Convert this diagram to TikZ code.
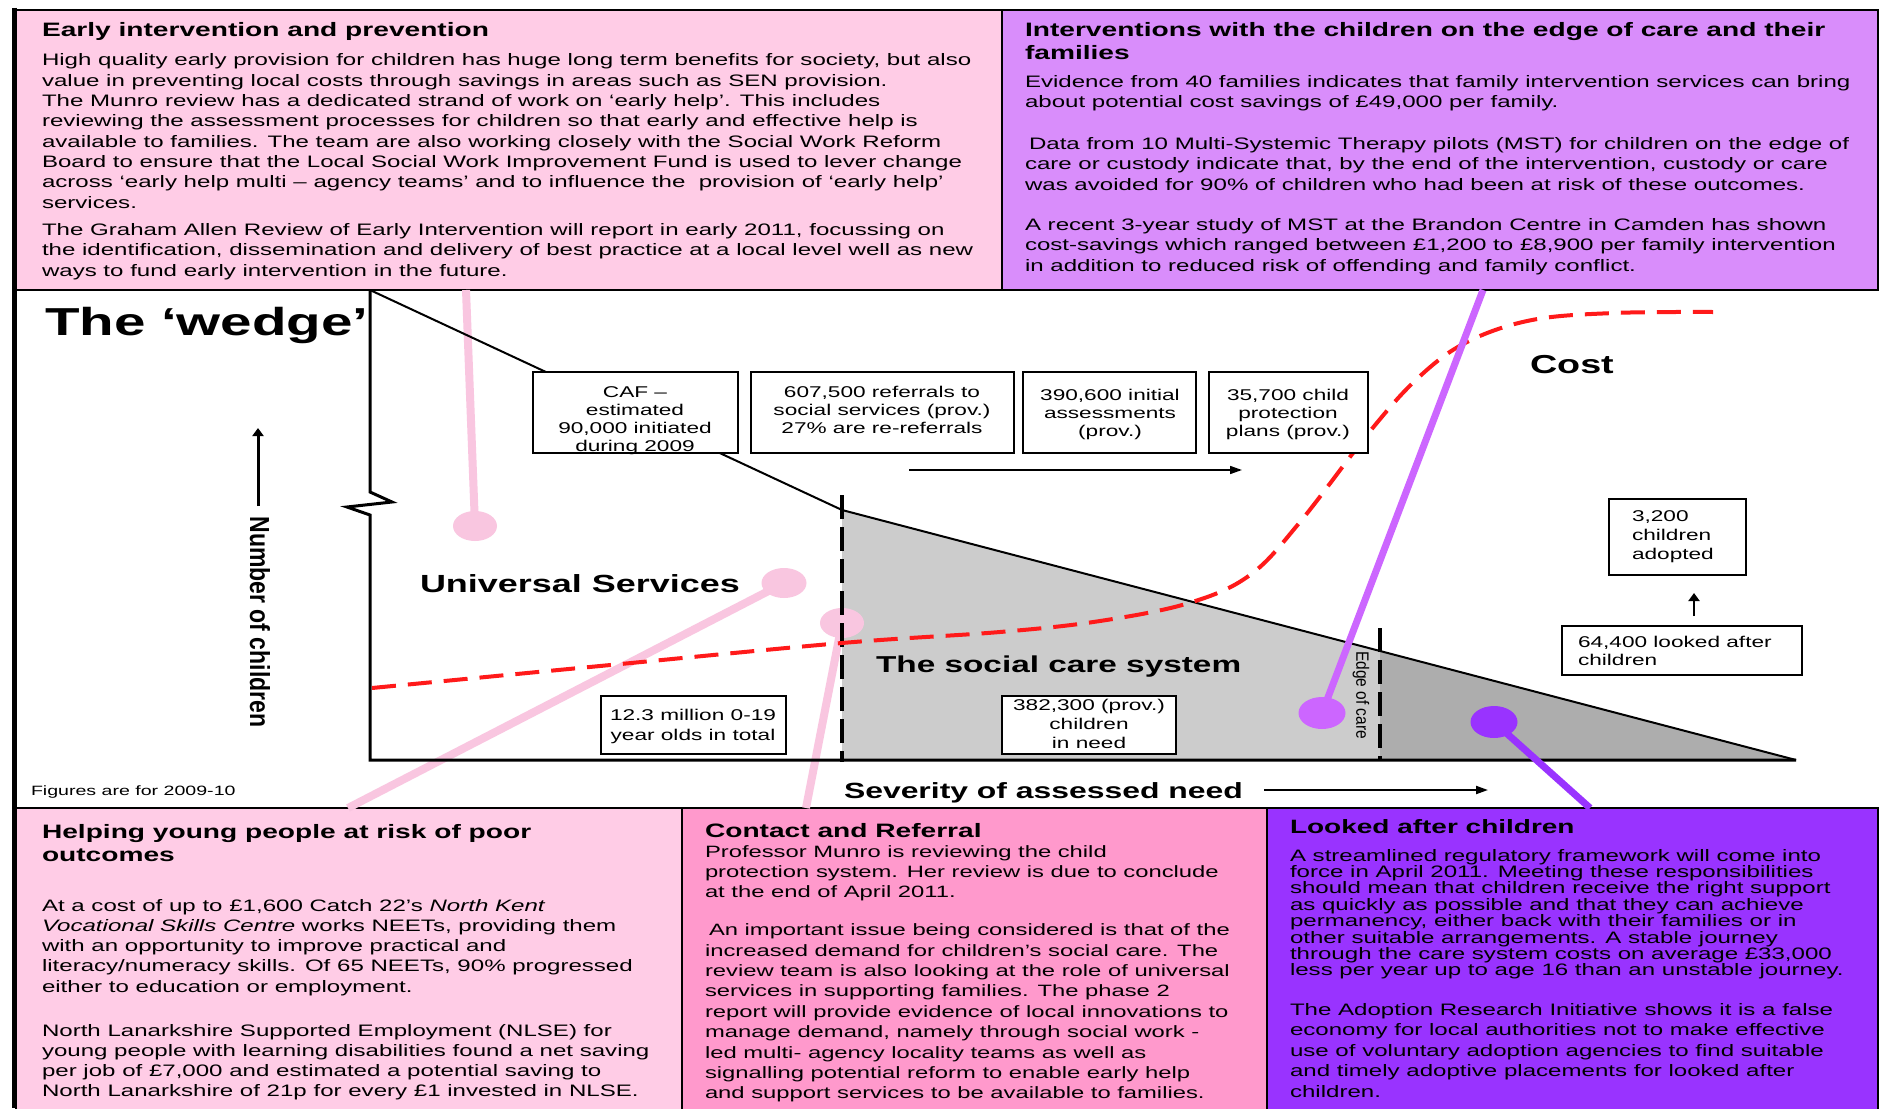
\documentclass[tikz,border=0pt]{standalone}
\usepackage{fontspec}
\setmainfont{Liberation Sans}[FakeStretch=1.45]
\newfontfamily\rotfont{Liberation Sans}
\usepackage{graphicx}
\usetikzlibrary{shapes.geometric,arrows.meta}
\definecolor{pinkA}{HTML}{FFCCE6}
\definecolor{lavA}{HTML}{D98DFB}
\definecolor{pinkB}{HTML}{FF99CC}
\definecolor{violA}{HTML}{9933FF}
\definecolor{pinkL}{HTML}{F9C6E0}
\definecolor{purpL}{HTML}{CC66FF}
\definecolor{greyA}{HTML}{CCCCCC}
\definecolor{greyB}{HTML}{ADADAD}
\definecolor{redC}{HTML}{FF1A1A}
\begin{document}
\begin{tikzpicture}[x=1pt,y=-1pt,
  panel/.style={draw=black, line width=1.5pt, anchor=north west, inner sep=0pt, outer sep=0pt},
  sbox/.style={draw=black, line width=1.6pt, fill=white, anchor=north west, inner sep=0pt, outer sep=0pt},
  txt/.style={anchor=base west, inner sep=0pt, outer sep=0pt},
  ctxt/.style={anchor=base, inner sep=0pt, outer sep=0pt},
  blob/.style={ellipse, inner sep=0pt, outer sep=0pt, draw=none},
  pinkline/.style={draw=pinkL, line width=8pt},
  arr/.style={draw=black, -{Triangle[length=12pt,width=8pt]}},
  varr/.style={draw=black, -{Triangle[length=8pt,width=11pt]}},
  dashv/.style={draw=black, line width=3.5pt, dash pattern=on 24pt off 8pt}
]
\useasboundingbox (0,0) rectangle (1881,1108);
\fill[white] (0,0) rectangle (1881,1108);

% ---------------- panels
\node[panel, fill=pinkA, minimum width=986pt, minimum height=280pt] (tl) at (16,10) {};
\node[panel, fill=lavA, minimum width=876pt, minimum height=280pt] (tr) at (1002,10) {};
\node[panel, fill=pinkA, minimum width=666pt, minimum height=304pt] (bl) at (16,808) {};
\node[panel, fill=pinkB, minimum width=585pt, minimum height=304pt] (bm) at (682,808) {};
\node[panel, fill=violA, minimum width=611pt, minimum height=304pt] (br) at (1267,808) {};

% ---------------- grey regions
\fill[greyA] (842,510) -- (1380,651) -- (1380,760) -- (842,760) -- cycle;
\fill[greyB] (1380,651) -- (1796,760) -- (1380,760) -- cycle;

% ---------------- pink connectors
\coordinate (p1top) at (466,290);
\coordinate (c1) at (475,526);
\coordinate (c2) at (784,583);
\coordinate (p2bot) at (348,808);
\coordinate (c3) at (842,623);
\coordinate (p3bot) at (806,808);
\draw[pinkline] (p1top) -- (c1);
\draw[pinkline] (c2) -- (p2bot);
\draw[pinkline] (c3) -- (p3bot);
\node[blob, fill=pinkL, minimum width=44pt, minimum height=30pt] (dot1) at (c1) {};
\node[blob, fill=pinkL, minimum width=45pt, minimum height=30pt] (dot2) at (c2) {};
\node[blob, fill=pinkL, minimum width=44pt, minimum height=30pt] (dot3) at (c3) {};

% ---------------- wedge
\draw[line width=3pt, line join=miter] (370,290) -- (370,492) -- (392,502) -- (347,507) -- (370,515) -- (370,760) -- (1796,760);
\draw[line width=2pt] (370,290) -- (842,510) -- (1796,760);
\draw[dashv] (842,495) -- (842,762);
\draw[dashv] (1380,628) -- (1380,760);

% ---------------- cost curve
\draw[redC, line width=4pt, dash pattern=on 24pt off 12pt]
  plot[smooth, tension=0.6] coordinates {(372,688) (600,666) (842,643) (1000,632) (1100,621) (1189,603) (1250,575) (1300,522) (1371,430) (1419,377) (1467,342) (1532,320) (1614,313) (1713,312)};

% ---------------- purple connectors
\coordinate (q1top) at (1483,290);
\coordinate (q1) at (1322,713);
\coordinate (v1) at (1494,722);
\coordinate (v1bot) at (1590,808);
\draw[draw=purpL, line width=7pt] (q1top) -- (q1);
\draw[draw=violA, line width=7pt] (v1) -- (v1bot);
\node[blob, fill=purpL, minimum width=47pt, minimum height=32pt] (dot4) at (q1) {};
\node[blob, fill=violA, minimum width=47pt, minimum height=32pt] (dot5) at (v1) {};

% ---------------- small boxes
\node[sbox, minimum width=205pt, minimum height=81pt] (caf) at (533,372) {};
\node[sbox, minimum width=263pt, minimum height=81pt] (ref) at (751,372) {};
\node[sbox, minimum width=173pt, minimum height=81pt] (ia) at (1023,372) {};
\node[sbox, minimum width=159pt, minimum height=81pt] (cpp) at (1209,372) {};
\node[sbox, minimum width=185pt, minimum height=58pt] (tot) at (601,696) {};
\node[sbox, minimum width=174pt, minimum height=58pt] (cin) at (1002,696) {};
\node[sbox, minimum width=137pt, minimum height=76pt] (adp) at (1609,499) {};
\node[sbox, minimum width=240pt, minimum height=49pt] (lac) at (1562,626) {};

\node[ctxt] (cafT) at (635,397) {\parbox[t]{300pt}{\centering\fontsize{15.6}{18.3}\selectfont CAF –\\estimated\\90,000 initiated\\during 2009}};
\node[ctxt] (refT) at (882,397) {\parbox[t]{300pt}{\centering\fontsize{15.6}{18.3}\selectfont 607,500 referrals to\\social services (prov.)\\27\% are re-referrals}};
\node[ctxt] (iaT) at (1110,400) {\parbox[t]{300pt}{\centering\fontsize{15.6}{18.3}\selectfont 390,600 initial\\assessments\\(prov.)}};
\node[ctxt] (cppT) at (1288,400) {\parbox[t]{300pt}{\centering\fontsize{15.6}{18.3}\selectfont 35,700 child\\protection\\plans (prov.)}};
\node[ctxt] (totT) at (693,720) {\parbox[t]{300pt}{\centering\fontsize{15.6}{20}\selectfont 12.3 million 0-19\\year olds in total}};
\node[ctxt] (cinT) at (1089,710) {\parbox[t]{300pt}{\centering\fontsize{15.6}{19}\selectfont 382,300 (prov.)\\children\\in need}};
\node[txt] (adpT) at (1632,521) {\parbox[t]{300pt}{\raggedright\fontsize{15.6}{19}\selectfont 3,200\\children\\adopted}};
\node[txt] (lacT) at (1578,647) {\parbox[t]{300pt}{\raggedright\fontsize{15.6}{18.3}\selectfont 64,400 looked after\\children}};

% ---------------- arrows
\coordinate (a1s) at (909,470); \coordinate (a1e) at (1242,470);
\coordinate (a2s) at (1264,790); \coordinate (a2e) at (1488,790);
\coordinate (a3s) at (1694,616); \coordinate (a3e) at (1694,593);
\coordinate (a4s) at (258,506); \coordinate (a4e) at (258,428);
\draw[arr, line width=1.6pt] (a1s) -- (a1e);
\draw[arr, line width=2pt] (a2s) -- (a2e);
\draw[varr, line width=2.5pt] (a3s) -- (a3e);
\draw[varr, line width=3pt] (a4s) -- (a4e);

% ---------------- diagram labels
\node[txt] (wedge) at (45,335) {\fontsize{39}{44}\selectfont\bfseries The ‘wedge’};
\node[txt] (univ) at (420,592) {\fontsize{24.8}{28}\selectfont\bfseries Universal Services};
\node[txt] (scs) at (876,672) {\fontsize{23}{26}\selectfont\bfseries The social care system};
\node[txt] (cost) at (1530,373) {\fontsize{26}{30}\selectfont\bfseries Cost};
\node[txt] (sev) at (844,798) {\fontsize{22}{26}\selectfont\bfseries Severity of assessed need};
\node[txt] (fig) at (31,795) {\fontsize{13.5}{16}\selectfont Figures are for 2009-10};
\node[rotate=-90, inner sep=0pt] (noc) at (260,622) {\scalebox{1}[1.2]{\rotfont\fontsize{23}{26}\selectfont\bfseries Number of children}};
\node[rotate=-90, inner sep=0pt] (eoc) at (1361,695) {\scalebox{1}[1.15]{\rotfont\fontsize{15.5}{17}\selectfont Edge of care}};

% ---------------- panel texts
\node[txt] (tlT) at (42,37) {\fontsize{19.4}{23}\selectfont\bfseries Early intervention and prevention};
\node[txt] (tlB) at (42,66) {\parbox[t]{1200pt}{\raggedright\fontsize{16.6}{20.3}\selectfont
High quality early provision for children has huge long term benefits for society, but also\\
value in preventing local costs through savings in areas such as SEN provision.\\
The Munro review has a dedicated strand of work on ‘early help’. This includes\\
reviewing the assessment processes for children so that early and effective help is\\
available to families. The team are also working closely with the Social Work Reform\\
Board to ensure that the Local Social Work Improvement Fund is used to lever change\\
across ‘early help multi – agency teams’ and to influence the\ \ provision of ‘early help’\\
services.\\[7pt]
The Graham Allen Review of Early Intervention will report in early 2011, focussing on\\
the identification, dissemination and delivery of best practice at a local level well as new\\
ways to fund early intervention in the future.}};

\node[txt] (trT) at (1025,37) {\parbox[t]{1200pt}{\raggedright\fontsize{19.4}{23}\selectfont\bfseries Interventions with the children on the edge of care and their\\families}};
\node[txt] (trB) at (1025,87) {\parbox[t]{1200pt}{\raggedright\fontsize{16.6}{20.3}\selectfont
Evidence from 40 families indicates that family intervention services can bring\\
about potential cost savings of £49,000 per family.\\[22pt]
\hspace*{4pt}Data from 10 Multi-Systemic Therapy pilots (MST) for children on the edge of\\
care or custody indicate that, by the end of the intervention, custody or care\\
was avoided for 90\% of children who had been at risk of these outcomes.\\[20pt]
A recent 3-year study of MST at the Brandon Centre in Camden has shown\\
cost-savings which ranged between £1,200 to £8,900 per family intervention\\
in addition to reduced risk of offending and family conflict.}};

\node[txt] (blT) at (42,838) {\parbox[t]{1200pt}{\raggedright\fontsize{19.4}{23}\selectfont\bfseries Helping young people at risk of poor\\outcomes}};
\node[txt] (blB) at (42,911) {\parbox[t]{1200pt}{\raggedright\fontsize{16.6}{20.3}\selectfont
At a cost of up to £1,600 Catch 22’s \textit{North Kent}\\
\textit{Vocational Skills Centre} works NEETs, providing them\\
with an opportunity to improve practical and\\
literacy/numeracy skills. Of 65 NEETs, 90\% progressed\\
either to education or employment.\\[23.5pt]
North Lanarkshire Supported Employment (NLSE) for\\
young people with learning disabilities found a net saving\\
per job of £7,000 and estimated a potential saving to\\
North Lanarkshire of 21p for every £1 invested in NLSE.}};

\node[txt] (bmT) at (705,837) {\fontsize{19.4}{23}\selectfont\bfseries Contact and Referral};
\node[txt] (bmB) at (705,857) {\parbox[t]{1200pt}{\raggedright\fontsize{16.4}{20.4}\selectfont
Professor Munro is reviewing the child\\
protection system. Her review is due to conclude\\
at the end of April 2011.\\[17.5pt]
\hspace*{4pt}An important issue being considered is that of the\\
increased demand for children’s social care. The\\
review team is also looking at the role of universal\\
services in supporting families. The phase 2\\
report will provide evidence of local innovations to\\
manage demand, namely through social work -\\
led multi- agency locality teams as well as\\
signalling potential reform to enable early help\\
and support services to be available to families.}};

\node[txt] (brT) at (1290,833) {\fontsize{19.3}{23}\selectfont\bfseries Looked after children};
\node[txt] (brB1) at (1290,861) {\parbox[t]{1200pt}{\raggedright\fontsize{16.6}{16.4}\selectfont
A streamlined regulatory framework will come into\\
force in April 2011. Meeting these responsibilities\\
should mean that children receive the right support\\
as quickly as possible and that they can achieve\\
permanency, either back with their families or in\\
other suitable arrangements. A stable journey\\
through the care system costs on average £33,000\\
less per year up to age 16 than an unstable journey.}};
\node[txt] (brB2) at (1290,1015) {\parbox[t]{1200pt}{\raggedright\fontsize{16.6}{20.5}\selectfont
The Adoption Research Initiative shows it is a false\\
economy for local authorities not to make effective\\
use of voluntary adoption agencies to find suitable\\
and timely adoptive placements for looked after\\
children.}};

% ---------------- outer left bar
\coordinate (barT) at (14.5,8); \coordinate (barB) at (14.5,1108);
\draw[line width=5pt] (barT) -- (barB);
\end{tikzpicture}
\end{document}
